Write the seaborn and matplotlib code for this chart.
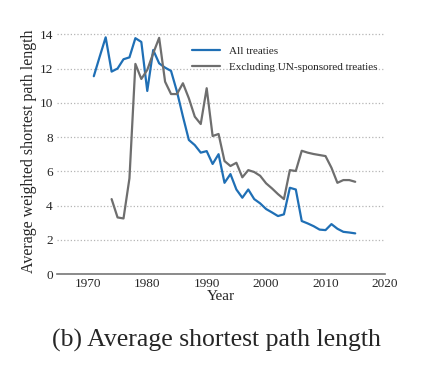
import numpy as np
import pandas as pd
import matplotlib
matplotlib.use("Agg")
import matplotlib.pyplot as plt
import seaborn as sns

years = list(range(1971, 2016))
all_treaties = [11.55, 12.7, 13.82, 11.82, 12.0, 12.54, 12.65, 13.77, 13.55, 10.69,
                13.08, 12.3, 12.05, 11.86, 10.65, 9.2, 7.83, 7.53, 7.09, 7.18,
                6.43, 7.0, 5.33, 5.84, 4.94, 4.46, 4.94, 4.38, 4.13, 3.8,
                3.6, 3.39, 3.49, 5.04, 4.94, 3.1, 2.96, 2.8, 2.6, 2.57,
                2.92, 2.65, 2.47, 2.43, 2.38]
excl_years = list(range(1974, 2016))
excl_un = [4.38, 3.31, 3.25, 5.59, 12.27, 11.39, 11.92, 12.89, 13.79,
           11.23, 10.51, 10.51, 11.14, 10.26, 9.19, 8.76, 10.85, 8.06, 8.18,
           6.6, 6.31, 6.5, 5.65, 6.07, 5.96, 5.74, 5.3, 5.0, 4.67,
           4.38, 6.07, 6.02, 7.2, 7.09, 7.01, 6.95, 6.89, 6.21, 5.33,
           5.49, 5.49, 5.39]
series_names = ["All treaties", "Excluding UN-sponsored treaties"]
x_ticks = [1970, 1980, 1990, 2000, 2010, 2020]
y_ticks = [0, 2, 4, 6, 8, 10, 12, 14]

df = pd.concat([
    pd.DataFrame({"Year": years, "value": all_treaties, "series": series_names[0]}),
    pd.DataFrame({"Year": excl_years, "value": excl_un, "series": series_names[1]}),
])

sns.set_style("white")
plt.rcParams["font.family"] = ["Liberation Serif", "DejaVu Serif"]

fig = plt.figure(figsize=(4.45, 3.73), dpi=100)
ax = fig.add_axes([0.128, 0.265, 0.737, 0.657])

sns.lineplot(data=df, x="Year", y="value", hue="series", hue_order=series_names,
             palette=["#1f6fb5", "#6e6e6e"], linewidth=1.6, ax=ax)

ax.set_xlim(1964.8, 2019.6)
ax.set_ylim(0, 14.3)
ax.set_xticks(x_ticks)
ax.set_yticks(y_ticks)
ax.tick_params(axis="both", labelsize=9.5, length=0, pad=3)
ax.yaxis.grid(True, linestyle=":", color="#b5b5b5", linewidth=0.9)
ax.xaxis.grid(False)
for s in ["left", "top", "right"]:
    ax.spines[s].set_visible(False)
ax.spines["bottom"].set_color("#777777")
ax.spines["bottom"].set_linewidth(1.2)
ax.set_xlabel("Year", fontsize=11, labelpad=0)
ax.set_ylabel("Average weighted shortest path length", fontsize=11.5, labelpad=2)

leg = ax.legend(title=None, frameon=False, fontsize=8, loc="upper left",
                bbox_to_anchor=(0.38, 0.97), handlelength=2.6, labelspacing=0.55)

fig.text(0.486, 0.088, "(b) Average shortest path length", ha="center", va="center",
         fontsize=18.5, family=["Liberation Serif", "DejaVu Serif"])

fig.savefig("out.png", dpi=100)
